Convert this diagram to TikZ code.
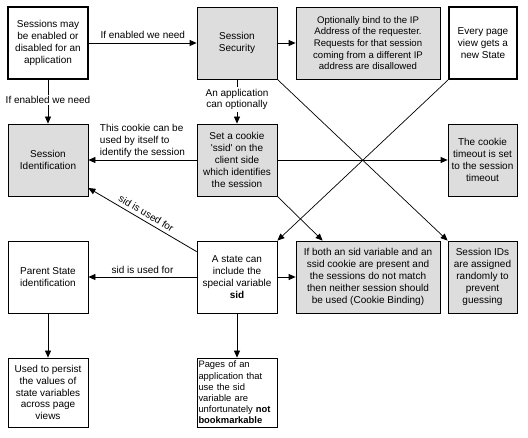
\documentclass[tikz,border=0pt]{standalone}
\usepackage{fontspec}
\newfontfamily\arial{Liberation Sans}
\usetikzlibrary{arrows.meta}
\definecolor{boxgray}{RGB}{221,221,221}
\begin{document}
\begin{tikzpicture}[x=1pt,y=-1pt,
  every node/.style={font=\arial\fontsize{10}{11.8}\selectfont},
  box/.style={draw=black, line width=0.8pt, minimum width=80pt, minimum height=72pt, inner sep=1pt, align=center},
  thickbox/.style={box, line width=2pt},
  graybox/.style={box, fill=boxgray},
  arr/.style={draw=black, line width=0.8pt, -{Triangle[length=7pt,width=6pt]}},
  plain/.style={draw=black, line width=0.7pt, -{Triangle[length=7pt,width=6pt]}},
  lbl/.style={inner sep=1.5pt, align=center}
]
\fill[white] (0,0) rectangle (528,438);
\useasboundingbox (0,0) rectangle (528,438);

% row 1
\node[thickbox] (b1) at (48,43) {Sessions may\\be enabled or\\disabled for an\\application};
\node[graybox] (sec) at (237,43) {Session\\Security};
\node[graybox, minimum width=144pt, font=\arial\fontsize{9.6}{11.7}\selectfont] (ip) at (368,43) {Optionally bind to the IP\\Address of the requester.\\Requests for that session\\coming from a different IP\\address are disallowed};
\node[thickbox, minimum width=68pt] (every) at (483,43) {Every page\\view gets a\\new State};

% row 2
\node[graybox] (sid) at (48,160) {Session\\Identification};
\node[graybox] (cookie) at (237,160) {Set a cookie\\'ssid' on the\\client side\\which identifies\\the session};
\node[graybox, minimum width=69pt] (timeout) at (482.5,160) {The cookie\\timeout is set\\to the session\\timeout};

% row 3
\node[box] (parent) at (48,277) {Parent State\\identification};
\node[box] (state) at (237,277) {A state can\\include the\\special variable\\\textbf{sid}};
\node[graybox, minimum width=144pt] (both) at (368,277) {If both an sid variable and an\\ssid cookie are present and\\the sessions do not match\\then neither session should\\be used (Cookie Binding)};
\node[graybox, minimum width=69pt] (ids) at (482.5,277) {Session IDs\\are assigned\\randomly to\\prevent\\guessing};

% row 4
\node[box, minimum height=69pt] (persist) at (48,392.5) {Used to persist\\the values of\\state variables\\across page\\views};
\node[box, minimum height=69pt, align=left, text width=77pt, inner sep=1.5pt, font=\arial\fontsize{9.4}{11.2}\selectfont] (pages) at (237,392.5) {Pages of an\\application that\\use the sid\\variable are\\unfortunately \textbf{not}\\\textbf{bookmarkable}};

% connectors
\draw[arr] (b1) -- (sec) node[lbl, midway, above=2pt] {If enabled we need};
\draw[arr] (sec) -- (ip);
\draw[arr] (b1) -- (sid) node[lbl, midway, fill=white, yshift=2pt] {If enabled we need};
\draw[arr] (sec) -- (cookie) node[lbl, midway, fill=white, yshift=2pt] {An application\\can optionally};
\draw[arr] (cookie) -- (sid) node[lbl, midway, above=1pt, align=left] {This cookie can be\\used by itself to\\identify the session};
\draw[arr] (cookie) -- (timeout);
\draw[arr, {Triangle[length=7pt,width=6pt]}-] ([yshift=-28pt]sid.east) -- ([yshift=-11pt]state.north west) node[lbl, midway, above=2pt, sloped] {sid is used for};
\draw[arr] (state) -- (parent) node[lbl, midway, above=2pt] {sid is used for};
\draw[arr] (state) -- (both);
\draw[arr] (parent) -- (persist);
\draw[arr] (state) -- (pages);
\draw[plain] (sec.south east) -- (ids.north west);
\draw[plain] (every.south west) -- (state.north east);
\draw[plain] (cookie.south east) -- ([xshift=27pt]both.north west);
\end{tikzpicture}
\end{document}
